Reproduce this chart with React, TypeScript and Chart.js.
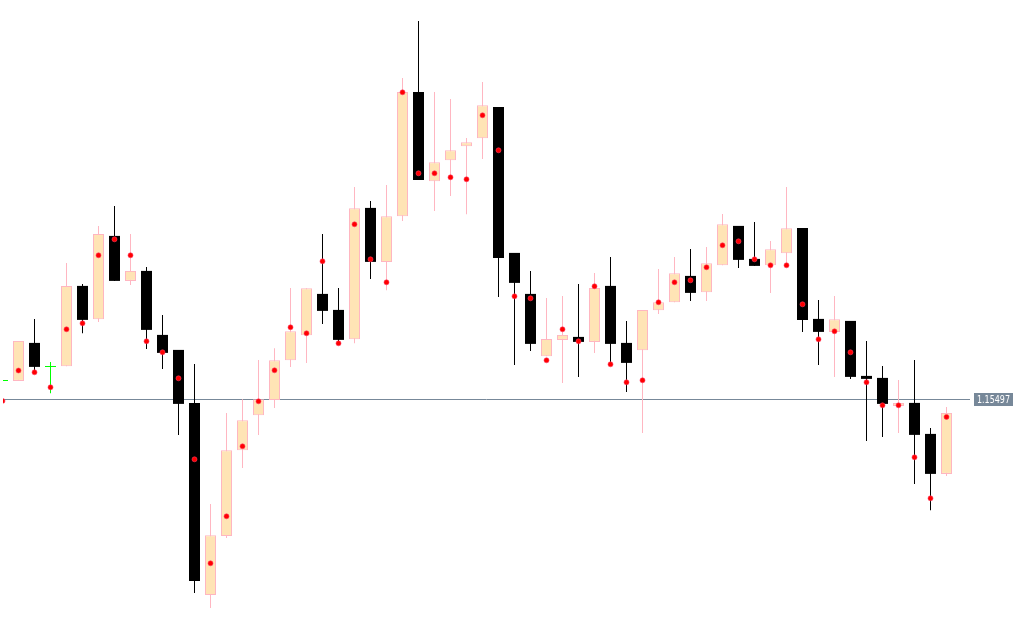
import { useEffect, useRef } from "react";
import { Chart, registerables } from "chart.js";

Chart.register(...registerables);

// Bar index of the first (partly hidden) candle
const firstBar = -1;

const opens = [
  1.15592, 1.1559, 1.1578, 1.15662, 1.15663, 1.16065, 1.15898, 1.16315, 1.1609, 1.1614,
  1.1582, 1.15745, 1.1548, 1.1452, 1.14815, 1.15243, 1.15418, 1.15495, 1.15693, 1.15818,
  1.16025, 1.15945, 1.15798, 1.16455, 1.16185, 1.16413, 1.17035, 1.16588, 1.16693, 1.16763,
  1.16803, 1.1696, 1.1623, 1.16025, 1.15713, 1.15795, 1.1581, 1.15785, 1.16065, 1.1578,
  1.15743, 1.15943, 1.15983, 1.16115, 1.16033, 1.16168, 1.16365, 1.162, 1.16168, 1.16228,
  1.16355, 1.159, 1.15835, 1.1589, 1.15615, 1.15605, 1.15465, 1.1548, 1.15325, 1.15125,
];

const highs = [
  1.15592, 1.1579, 1.159, 1.15685, 1.1618, 1.16075, 1.16365, 1.16465, 1.16325, 1.1616,
  1.1592, 1.15745, 1.15675, 1.14975, 1.1543, 1.15498, 1.15695, 1.15753, 1.16055, 1.16053,
  1.16325, 1.16055, 1.1656, 1.1649, 1.1657, 1.17105, 1.1739, 1.17035, 1.17, 1.16805,
  1.17085, 1.1696, 1.1623, 1.1614, 1.16005, 1.16015, 1.16075, 1.1613, 1.1621, 1.1589,
  1.15945, 1.1615, 1.1621, 1.1625, 1.1626, 1.16425, 1.16365, 1.16385, 1.1629, 1.1656,
  1.16355, 1.15995, 1.16015, 1.1589, 1.1579, 1.15665, 1.15595, 1.15695, 1.15355, 1.1546,
];

const lows = [
  1.15592, 1.1559, 1.15625, 1.15528, 1.15663, 1.15828, 1.15885, 1.1609, 1.1607, 1.1575,
  1.1565, 1.1532, 1.1453, 1.14455, 1.14805, 1.15155, 1.1532, 1.15455, 1.1566, 1.1568,
  1.15875, 1.1578, 1.15778, 1.161, 1.16043, 1.1639, 1.16595, 1.1644, 1.16515, 1.16423,
  1.167, 1.1601, 1.1567, 1.1574, 1.15713, 1.1558, 1.1561, 1.1573, 1.15673, 1.15535,
  1.1533, 1.15925, 1.15983, 1.1599, 1.1599, 1.16168, 1.16155, 1.16165, 1.1603, 1.16168,
  1.15835, 1.1567, 1.1561, 1.156, 1.1529, 1.1531, 1.1533, 1.15075, 1.14943, 1.15115,
];

const closes = [
  1.15592, 1.1579, 1.1566, 1.15662, 1.16065, 1.15895, 1.16325, 1.1609, 1.1614, 1.15845,
  1.1573, 1.15475, 1.1459, 1.14818, 1.15243, 1.15393, 1.15498, 1.15693, 1.15838, 1.16053,
  1.1594, 1.15795, 1.16453, 1.16185, 1.16413, 1.17035, 1.16595, 1.16683, 1.16743, 1.16783,
  1.16968, 1.16205, 1.1608, 1.15775, 1.158, 1.1582, 1.15785, 1.16055, 1.15775, 1.1568,
  1.15945, 1.15983, 1.16128, 1.1603, 1.16178, 1.16373, 1.16195, 1.16165, 1.16248, 1.16353,
  1.15895, 1.15835, 1.15898, 1.1561, 1.156, 1.15475, 1.1548, 1.1532, 1.15125, 1.1543,
];

// Red marker values drawn on each candle
const markers = [
  1.1549, 1.15642, 1.15633, 1.15558, 1.15848, 1.15878, 1.16218, 1.16298, 1.16218, 1.15788,
  1.15733, 1.15603, 1.15198, 1.14678, 1.14913, 1.15263, 1.15488, 1.15643, 1.15858, 1.15828,
  1.16188, 1.15778, 1.16373, 1.16198, 1.16083, 1.17033, 1.16628, 1.16628, 1.16608, 1.16598,
  1.16918, 1.16743, 1.16013, 1.16003, 1.15693, 1.15848, 1.15788, 1.16063, 1.15673, 1.15583,
  1.15593, 1.15983, 1.16083, 1.16093, 1.16158, 1.16268, 1.16288, 1.16198, 1.16168, 1.16168,
  1.15973, 1.15798, 1.15838, 1.15733, 1.15583, 1.15468, 1.15468, 1.15208, 1.15003, 1.1541,
];

const lastPrice = 1.15497;
const lastPriceLabel = "1.15497";

const priceMin = 1.142945;
const priceMax = 1.174945;
const barMin = -0.96875;
const barMax = 59.46875;

const BULL_FILL = "#ffe4b5";
const BULL_LINE = "#ffb6c1";
const BEAR = "#000000";
const DOJI = "#00ff00";
const DOT = "#ff0000";
const SLATE = "#778899";

const priceLabelPlugin = {
  id: "priceLabel",
  afterDatasetsDraw(chart: any) {
    const { ctx, chartArea } = chart;
    const y = chart.scales.y.getPixelForValue(lastPrice);
    const x0 = chartArea.right + 4;
    const w = 39;
    const h = 13;
    const top = Math.floor(y) - 6;
    ctx.save();
    ctx.fillStyle = SLATE;
    ctx.fillRect(x0, top, w, h);
    ctx.fillStyle = "#ffffff";
    ctx.font = '11px "DejaVu Sans", sans-serif';
    ctx.textAlign = "center";
    ctx.textBaseline = "middle";
    ctx.fillText(lastPriceLabel, x0 + w / 2, top + h / 2 + 0.5, 33);
    ctx.restore();
  },
};

export default function App() {
  const ref = useRef<HTMLCanvasElement>(null);

  useEffect(() => {
    if (!ref.current) return;
    const xs = opens.map((_, k) => firstBar + k);
    const kind = opens.map((o, k) =>
      closes[k] > o ? "bull" : closes[k] < o ? "bear" : "doji"
    );
    const wickColors = kind.map((k) => (k === "bull" ? BULL_LINE : k === "bear" ? BEAR : DOJI));

    const bodyIdx = xs.map((_, k) => k).filter((k) => kind[k] !== "doji");
    const bodyData = bodyIdx.map((k) => ({ x: xs[k], y: [opens[k], closes[k]] }));
    const bodyFill = bodyIdx.map((k) => (kind[k] === "bull" ? BULL_FILL : BEAR));
    const bodyLine = bodyIdx.map((k) => (kind[k] === "bull" ? BULL_LINE : BEAR));
    const bodyBorder = bodyIdx.map((k) => (kind[k] === "bull" ? 1 : 0));

    const dojiData = xs
      .map((x, k) => ({ x, y: opens[k], k }))
      .filter((d) => kind[d.k] === "doji")
      .map((d) => ({ x: d.x, y: d.y }));

    const chart = new Chart(ref.current, {
      type: "bar",
      data: {
        datasets: [
          {
            type: "scatter",
            data: xs.map((x, k) => ({ x, y: markers[k] })),
            pointStyle: "circle",
            pointRadius: 2.5,
            pointBackgroundColor: DOT,
            pointBorderColor: "#ff3860",
            pointBorderWidth: 0.6,
            order: 0,
            clip: 0,
          } as any,
          {
            type: "scatter",
            data: dojiData,
            pointStyle: "line",
            pointRadius: 5.5,
            pointBorderColor: DOJI,
            pointBackgroundColor: DOJI,
            pointBorderWidth: 1,
            order: 1,
            clip: 0,
          } as any,
          {
            type: "bar",
            data: bodyData,
            backgroundColor: bodyFill,
            borderColor: bodyLine,
            borderWidth: bodyBorder,
            borderSkipped: false,
            barThickness: 11,
            grouped: false,
            inflateAmount: 0,
            order: 2,
            clip: 0,
          } as any,
          {
            type: "bar",
            data: xs.map((x, k) => ({ x, y: [lows[k], highs[k]] })),
            backgroundColor: wickColors,
            borderWidth: 0,
            barThickness: 1,
            grouped: false,
            inflateAmount: 0,
            order: 3,
            clip: 0,
          } as any,
          {
            type: "line",
            data: [
              { x: barMin, y: lastPrice },
              { x: barMax, y: lastPrice },
            ],
            borderColor: SLATE,
            borderWidth: 1,
            pointRadius: 0,
            order: 4,
            clip: 0,
          } as any,
        ],
      },
      options: {
        animation: false,
        responsive: false,
        maintainAspectRatio: false,
        events: [],
        layout: { autoPadding: false, padding: { left: 3, right: 54, top: 0, bottom: 0 } },
        plugins: {
          legend: { display: false },
          tooltip: { enabled: false },
          title: { display: false },
        },
        scales: {
          x: {
            type: "linear",
            min: barMin,
            max: barMax,
            offset: false,
            display: false,
          },
          y: {
            type: "linear",
            min: priceMin,
            max: priceMax,
            display: false,
          },
        },
      } as any,
      plugins: [priceLabelPlugin],
    });
    return () => chart.destroy();
  }, []);

  return (
    <div
      style={{
        position: "fixed",
        left: 0,
        top: 0,
        width: 1024,
        height: 640,
        background: "#ffffff",
      }}
    >
      <canvas ref={ref} width={1024} height={640} style={{ display: "block" }} />
    </div>
  );
}
